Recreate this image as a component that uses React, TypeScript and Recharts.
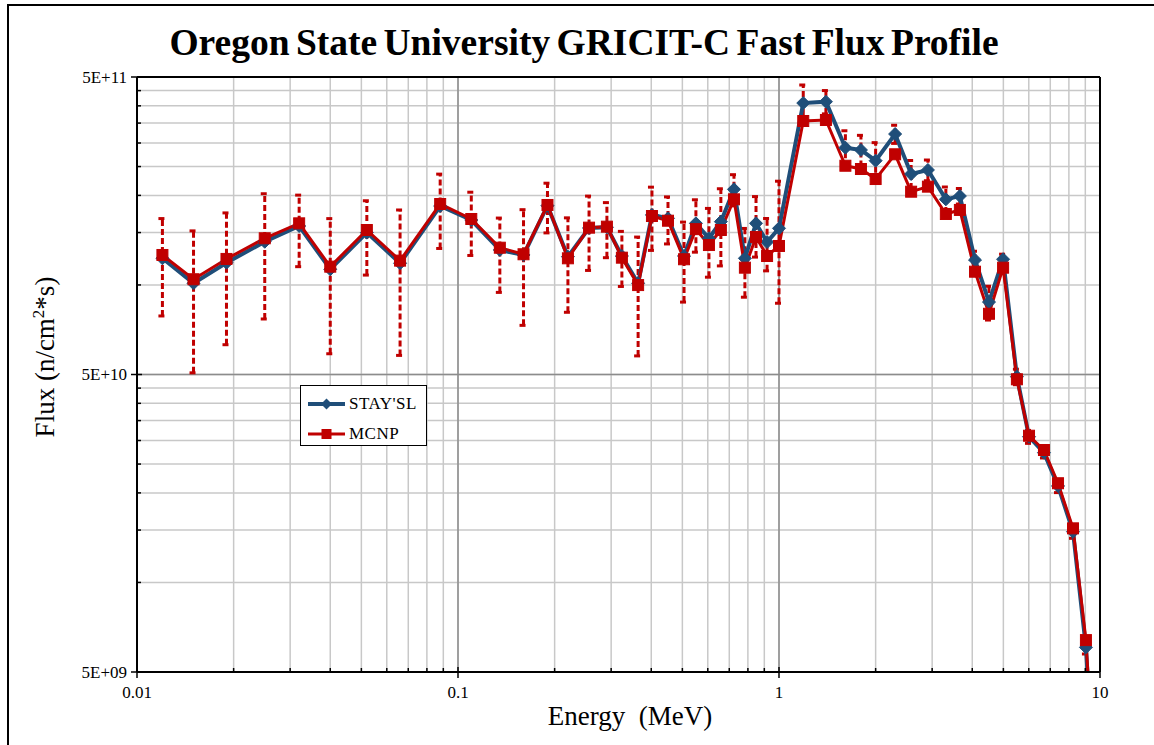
import React from "react";
import {
  CartesianGrid,
  ErrorBar,
  Line,
  LineChart,
  ReferenceLine,
  XAxis,
  YAxis,
} from "recharts";

// energy bins (MeV)
const energy = [
  0.012, 0.015, 0.019, 0.025, 0.032, 0.04, 0.052, 0.066, 0.088,
  0.11, 0.135, 0.16, 0.19, 0.22, 0.256, 0.291, 0.324, 0.364,
  0.402, 0.451, 0.506, 0.551, 0.605, 0.659, 0.724, 0.783, 0.848, 0.918, 1.0,
  1.19, 1.4, 1.61, 1.8, 2.0, 2.3, 2.58, 2.91, 3.31, 3.66,
  4.08, 4.51, 4.99, 5.51, 6.01, 6.69, 7.4, 8.24, 9.04, 10,
];

// flux, n/cm2*s
const staysl = [
  1.229e11, 1.013e11, 1.188e11, 1.397e11, 1.578e11, 1.129e11, 1.499e11, 1.183e11, 1.842e11,
  1.653e11, 1.311e11, 1.261e11, 1.847e11, 1.245e11, 1.554e11, 1.563e11, 1.251e11, 1.013e11,
  1.719e11, 1.675e11, 1.251e11, 1.611e11, 1.435e11, 1.632e11, 2.096e11, 1.229e11, 1.611e11, 1.394e11, 1.55e11,
  4.087e11, 4.13e11, 2.893e11, 2.842e11, 2.616e11, 3.216e11, 2.36e11, 2.435e11, 1.94e11, 1.99e11,
  1.213e11, 8.76e10, 1.22e11, 4.915e10, 3.089e10, 2.73e10, 2.11e10, 1.481e10, 6.05e9, 1.0e9,
];

const mcnp = [
  1.261e11, 1.045e11, 1.223e11, 1.435e11, 1.611e11, 1.152e11, 1.53e11, 1.207e11, 1.871e11,
  1.666e11, 1.334e11, 1.268e11, 1.857e11, 1.229e11, 1.558e11, 1.57e11, 1.235e11, 9.99e10,
  1.705e11, 1.644e11, 1.22e11, 1.54e11, 1.362e11, 1.53e11, 1.94e11, 1.143e11, 1.45e11, 1.251e11, 1.352e11,
  3.557e11, 3.585e11, 2.516e11, 2.453e11, 2.27e11, 2.749e11, 2.058e11, 2.14e11, 1.732e11, 1.787e11,
  1.108e11, 8.0e10, 1.143e11, 4.818e10, 3.113e10, 2.787e10, 2.155e10, 1.52e10, 6.4e9, 1.05e9,
];

// STAY'SL uncertainty, %
const uncertainty = [
  36, 50, 47, 45, 27, 48, 28, 51, 28,
  24, 28, 42, 19, 35, 28, 21, 21, 43,
  24, 18, 30, 20, 26, 29, 12, 26, 23, 20, 44,
  15, 9, 14, 12, 15, 7, 11, 8, 10, 6,
  7, 13, 4, 6, 5, 4, 5, 5, 5, 5,
];

const xTicks = [
  0.01, 0.02, 0.03, 0.04, 0.05, 0.06, 0.07, 0.08, 0.09,
  0.1, 0.2, 0.3, 0.4, 0.5, 0.6, 0.7, 0.8, 0.9,
  1, 2, 3, 4, 5, 6, 7, 8, 9, 10,
];
const xMajorTicks = [0.01, 0.1, 1, 10];
const xMajorLabels = ["0.01", "0.1", "1", "10"];

const yTicks = [
  5e9, 1e10, 1.5e10, 2e10, 2.5e10, 3e10, 3.5e10, 4e10, 4.5e10,
  5e10, 1e11, 1.5e11, 2e11, 2.5e11, 3e11, 3.5e11, 4e11, 4.5e11, 5e11,
];
const yMajorTicks = [5e9, 5e10, 5e11];
const yMajorLabels = ["5E+09", "5E+10", "5E+11"];

const data = energy.map((e, i) => ({
  energy: e,
  staysl: staysl[i],
  mcnp: mcnp[i],
  err: (staysl[i] * uncertainty[i]) / 100,
}));

const BLUE = "#1f4e79";
const RED = "#c00000";
const FONT = "'Liberation Serif', 'Times New Roman', serif";

const Diamond = (props: any) => {
  const { cx, cy } = props;
  if (cx == null || cy == null) return <g />;
  const r = 6.5;
  return (
    <path
      d={`M${cx},${cy - r}L${cx + r},${cy}L${cx},${cy + r}L${cx - r},${cy}Z`}
      fill={BLUE}
      stroke={BLUE}
    />
  );
};

const Square = (props: any) => {
  const { cx, cy } = props;
  if (cx == null || cy == null) return <g />;
  const r = 5.5;
  return <rect x={cx - r} y={cy - r} width={r * 2} height={r * 2} fill={RED} stroke={RED} />;
};

const XTick = (props: any) => {
  const { x, y, payload } = props;
  const i = xMajorTicks.indexOf(payload.value);
  if (i < 0) {
    return <line x1={x} x2={x} y1={y - 4} y2={y} stroke="#000" strokeWidth={1.5} />;
  }
  return (
    <g>
      <line x1={x} x2={x} y1={y - 5} y2={y + 6} stroke="#000" strokeWidth={1.5} />
      <text x={x} y={y + 26} textAnchor="middle" fontFamily={FONT} fontSize={17} fill="#000">
        {xMajorLabels[i]}
      </text>
    </g>
  );
};

const YTick = (props: any) => {
  const { x, y, payload } = props;
  const i = yMajorTicks.indexOf(payload.value);
  if (i < 0) {
    return <line x1={x} x2={x + 4} y1={y} y2={y} stroke="#000" strokeWidth={1.5} />;
  }
  return (
    <g>
      <line x1={x - 6} x2={x + 5} y1={y} y2={y} stroke="#000" strokeWidth={1.5} />
      <text x={x - 10} y={y} dy="0.35em" textAnchor="end" fontFamily={FONT} fontSize={17} fill="#000">
        {yMajorLabels[i]}
      </text>
    </g>
  );
};

export default function App() {
  return (
    <div
      style={{
        position: "absolute",
        left: 0,
        top: 0,
        width: 1154,
        height: 745,
        overflow: "hidden",
        background: "#fff",
        fontFamily: FONT,
      }}
    >
      <div
        style={{
          position: "absolute",
          left: 7,
          top: 4,
          width: 1200,
          height: 800,
          border: "2px solid #000",
        }}
      />

      <div style={{ position: "absolute", left: 0, top: 0 }}>
        <LineChart
          width={1154}
          height={745}
          data={data}
          margin={{ top: 77, right: 54, bottom: 33, left: 37 }}
        >
          <CartesianGrid stroke="#c8c8c8" strokeWidth={1.5} />
          <XAxis
            dataKey="energy"
            type="number"
            scale="log"
            domain={[0.01, 10]}
            ticks={xTicks}
            interval={0}
            allowDataOverflow
            height={40}
            tickSize={0}
            tickMargin={0}
            tickLine={false}
            tick={<XTick />}
            axisLine={{ stroke: "#000", strokeWidth: 2 }}
          />
          <YAxis
            type="number"
            scale="log"
            domain={[5e9, 5e11]}
            ticks={yTicks}
            interval={0}
            allowDataOverflow
            width={100}
            tickSize={0}
            tickMargin={0}
            tickLine={false}
            tick={<YTick />}
            axisLine={{ stroke: "#000", strokeWidth: 2 }}
          />
          <ReferenceLine x={0.1} stroke="#8c8c8c" strokeWidth={1.5} />
          <ReferenceLine x={1} stroke="#8c8c8c" strokeWidth={1.5} />
          <ReferenceLine y={5e10} stroke="#8c8c8c" strokeWidth={1.5} />
          <ReferenceLine x={10} stroke="#000" strokeWidth={2} />
          <ReferenceLine y={5e11} stroke="#000" strokeWidth={2} />
          <Line
            type="linear"
            dataKey="staysl"
            name="STAY'SL"
            stroke={BLUE}
            strokeWidth={4}
            dot={(p: any) => <Diamond key={`d${p.index}`} {...p} />}
            isAnimationActive={false}
          >
            <ErrorBar
              dataKey="err"
              direction="y"
              width={4}
              stroke={RED}
              strokeWidth={3}
              strokeDasharray="6 3"
              isAnimationActive={false}
            />
          </Line>
          <Line
            type="linear"
            dataKey="mcnp"
            name="MCNP"
            stroke={RED}
            strokeWidth={3}
            dot={(p: any) => <Square key={`s${p.index}`} {...p} />}
            isAnimationActive={false}
          />
        </LineChart>
      </div>

      <div
        style={{
          position: "absolute",
          left: 84,
          top: 24,
          width: 1000,
          textAlign: "center",
          fontSize: 37.5,
          lineHeight: "37px",
          fontWeight: "bold",
          whiteSpace: "nowrap",
          wordSpacing: -3,
        }}
      >
        Oregon State University GRICIT-C Fast Flux Profile
      </div>

      <div
        style={{
          position: "absolute",
          left: 480,
          top: 703,
          width: 300,
          textAlign: "center",
          fontSize: 27,
          lineHeight: "27px",
          whiteSpace: "pre",
        }}
      >
        {"Energy  (MeV)"}
      </div>

      <div
        style={{
          position: "absolute",
          left: 45 - 150,
          top: 357 - 15,
          width: 300,
          height: 30,
          textAlign: "center",
          fontSize: 27,
          lineHeight: "30px",
          whiteSpace: "nowrap",
          transform: "rotate(-90deg)",
        }}
      >
        Flux (n/cm<sup style={{ fontSize: 17, lineHeight: 0 }}>2</sup>*s)
      </div>

      <div
        style={{
          position: "absolute",
          left: 300,
          top: 385,
          width: 125,
          height: 59,
          border: "1.5px solid #000",
          background: "#fff",
          fontSize: 17,
        }}
      >
        {[
          { label: "STAY'SL", color: BLUE, shape: "diamond" },
          { label: "MCNP", color: RED, shape: "square" },
        ].map((item, i) => (
          <div
            key={item.label}
            style={{
              position: "absolute",
              left: 6,
              top: 9 + i * 30,
              height: 18,
              display: "flex",
              alignItems: "center",
              whiteSpace: "nowrap",
            }}
          >
            <svg width={40} height={18} style={{ display: "block" }}>
              <line x1={1} x2={38} y1={9} y2={9} stroke={item.color} strokeWidth={item.shape === "diamond" ? 4 : 3} />
              {item.shape === "diamond" ? (
                <path d="M19.5,3.5L25,9L19.5,14.5L14,9Z" fill={item.color} />
              ) : (
                <rect x={14.5} y={4} width={10} height={10} fill={item.color} />
              )}
            </svg>
            <span style={{ marginLeft: 2, letterSpacing: 0.5 }}>{item.label}</span>
          </div>
        ))}
      </div>
    </div>
  );
}
